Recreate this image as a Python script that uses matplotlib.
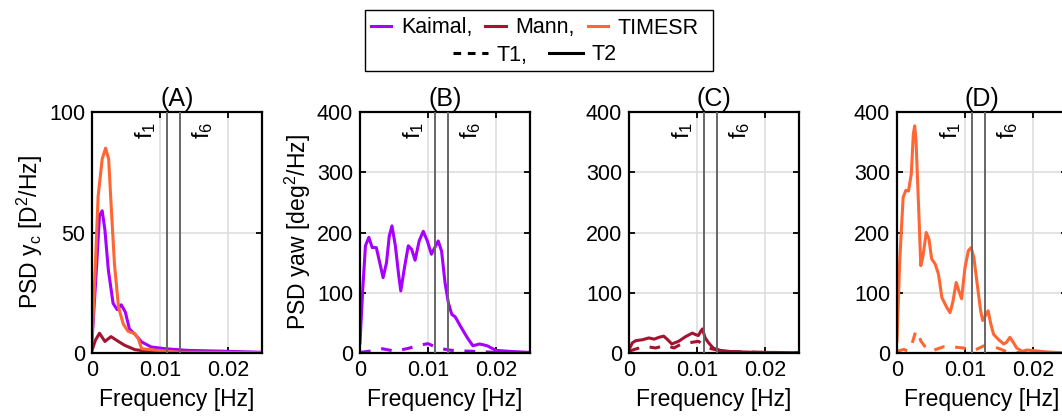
import numpy as np
import matplotlib.pyplot as plt
from matplotlib.lines import Line2D
from matplotlib.patches import Rectangle

plt.rcParams['font.family'] = ['Liberation Sans', 'DejaVu Sans']
plt.rcParams['mathtext.fontset'] = 'custom'
plt.rcParams['mathtext.rm'] = 'Liberation Sans'
plt.rcParams['mathtext.it'] = 'Liberation Sans:italic'

# frequencies of the two marked lines
f_marks = [0.011, 0.013]
f_labels = ['f$_1$', 'f$_6$']

# (A) PSD of y_c, T2
a_kaimal_f = [0, 0.00064, 0.0011, 0.0015, 0.0019, 0.0024, 0.0031, 0.0037, 0.0043, 0.0049,
              0.0055, 0.0063, 0.0073, 0.0087, 0.0107, 0.014, 0.02, 0.025]
a_kaimal_v = [5, 34.5, 57, 59, 51, 34.5, 20.6, 18, 20, 17, 10, 7.8, 4.6, 2.5, 1.8, 1.1, 0.7, 0.3]
a_mann_f = [0, 0.0005, 0.0011, 0.0019, 0.0028, 0.0036, 0.0048, 0.0063, 0.0082, 0.0117, 0.025]
a_mann_v = [1, 5.3, 8.2, 4.8, 6.8, 5.3, 3.2, 1.4, 0.7, 0.3, 0.1]
a_timesr_f = [0, 0.0004, 0.0009, 0.0015, 0.002, 0.00245, 0.0028, 0.0033, 0.0039, 0.0046,
              0.0053, 0.0063, 0.0068, 0.0073, 0.0082, 0.0107, 0.013, 0.025]
a_timesr_v = [5.3, 30, 65, 80.5, 85, 80.5, 62, 37, 19, 12, 9, 8, 6, 1.8, 1.5, 0.8, 0.3, 0.2]

# (B) PSD of yaw, Kaimal
b_t2_f = [0, 0.0004, 0.0008, 0.0013, 0.0018, 0.0024, 0.0029, 0.0034, 0.0039, 0.0043, 0.0047,
          0.0052, 0.0057, 0.006, 0.0065, 0.0071, 0.0076, 0.0081, 0.0087, 0.0093, 0.0099,
          0.0105, 0.011, 0.0115, 0.012, 0.0125, 0.013, 0.0135, 0.014, 0.0148, 0.0158,
          0.0166, 0.0176, 0.0187, 0.02, 0.0219, 0.0248]
b_t2_v = [17, 105, 178, 192, 175, 175, 150, 125, 150, 194, 211, 178, 128, 103, 139, 178,
          172, 154, 186, 202, 186, 164, 175, 186, 169, 117, 83, 64, 60, 44, 25, 12, 15, 12,
          4.4, 2.8, 1]
b_t1_f = [0, 0.0014, 0.0033, 0.0052, 0.0072, 0.0087, 0.01, 0.0109, 0.012, 0.0135, 0.0155,
          0.018, 0.02, 0.025]
b_t1_v = [1, 3, 7, 3, 8, 13, 15.5, 11, 7, 4.4, 3.3, 2.2, 1, 0.5]

# (C) PSD of yaw, Mann
c_t2_f = [0, 0.0005, 0.001, 0.002, 0.0029, 0.0037, 0.0044, 0.0051, 0.0056, 0.0063, 0.0073,
          0.0083, 0.0093, 0.0098, 0.0102, 0.0106, 0.0108, 0.0112, 0.0117, 0.0124, 0.0134,
          0.0151, 0.019, 0.0249]
c_t2_v = [5.5, 17, 20.5, 22, 25, 23, 26, 28, 23, 15, 19.4, 27, 33, 30.5, 29, 37, 40, 25,
          17, 8, 4.4, 2.2, 1.1, 0.5]
c_t1_f = [0, 0.001, 0.0024, 0.0039, 0.0054, 0.0066, 0.0078, 0.0093, 0.0102, 0.0108, 0.0117,
          0.0127, 0.0141, 0.019, 0.025]
c_t1_v = [2.8, 6.7, 11, 8.3, 12.8, 8.3, 15.5, 17.8, 19.4, 15, 8.3, 5.5, 2.8, 1.1, 0.5]

# (D) PSD of yaw, TIMESR
d_t2_f = [0, 0.0004, 0.0009, 0.0013, 0.0017, 0.0021, 0.0024, 0.0026, 0.0028, 0.0032, 0.0035,
          0.0038, 0.0043, 0.0047, 0.0051, 0.0056, 0.0061, 0.0066, 0.0073, 0.0078, 0.0082,
          0.0087, 0.0091, 0.0095, 0.01, 0.0105, 0.0109, 0.0113, 0.0118, 0.0123, 0.0126,
          0.013, 0.0134, 0.0138, 0.0142, 0.015, 0.0157, 0.0161, 0.0166, 0.0171, 0.0176,
          0.0184, 0.0191, 0.0201, 0.0221, 0.0242, 0.025]
d_t2_v = [20, 153, 258, 270, 269, 297, 363, 377, 352, 236, 145, 159, 200, 189, 156, 148,
          131, 92, 76, 67, 84, 117, 103, 90, 142, 170, 175, 159, 114, 70, 54, 62, 70, 48,
          31, 21.5, 15, 17.7, 26, 17.7, 8.3, 2.8, 5, 3.9, 1.7, 0.5, 0.3]
d_t1_f = [0, 0.001, 0.0017, 0.0022, 0.0027, 0.003, 0.0035, 0.0042, 0.0049, 0.0059, 0.0069,
          0.0078, 0.0088, 0.0098, 0.0108, 0.0118, 0.0127, 0.0135, 0.0142, 0.0152, 0.0162,
          0.0181, 0.024]
d_t1_v = [2.8, 6, 2.8, 15, 34, 37, 20, 9.4, 2.8, 6.6, 10.5, 11, 9.4, 8.3, 3.9, 6.6, 11.6,
          13, 10.5, 6.6, 1.7, 0.5, 0]

c_kaimal = '#A600FF'
c_mann = '#A2142F'
c_timesr = '#FF6633'
dash = (0, (3.5, 3.5))
lw = 2.2

W, H = 1062, 417
fig = plt.figure(figsize=(W / 100, H / 100), dpi=100)

lefts = [92, 360, 629, 897]
axw, bottom, top = 170, 353, 112


def make_ax(left):
    ax = fig.add_axes([left / W, (H - bottom) / H, axw / W, (bottom - top) / H])
    ax.set_xlim(0, 0.025)
    ax.set_xticks([0, 0.01, 0.02])
    ax.set_xticklabels(['0', '0.01', '0.02'])
    ax.grid(True, color='#DEDEDE', lw=1.2)
    ax.set_axisbelow(True)
    ax.tick_params(direction='in', length=4, width=1.3, top=True, right=True,
                   labelsize=15.5, pad=5)
    for s in ax.spines.values():
        s.set_linewidth(1.6)
    ax.set_xlabel('Frequency [Hz]', fontsize=16.5, labelpad=5)
    return ax


axes = [make_ax(l) for l in lefts]

ax = axes[0]
ax.plot(a_kaimal_f, a_kaimal_v, color=c_kaimal, lw=lw)
ax.plot(a_mann_f, a_mann_v, color=c_mann, lw=lw)
ax.plot(a_timesr_f, a_timesr_v, color=c_timesr, lw=lw)
ax.set_ylim(0, 100)
ax.set_yticks([0, 50, 100])
ax.set_ylabel('PSD y$_\\mathrm{c}$ [D$^2$/Hz]', fontsize=16.5, labelpad=3)

ax = axes[1]
ax.plot(b_t2_f, b_t2_v, color=c_kaimal, lw=lw)
ax.plot(b_t1_f, b_t1_v, color=c_kaimal, lw=lw, ls=dash)
ax.set_ylabel('PSD yaw [deg$^2$/Hz]', fontsize=16.5, labelpad=3)

ax = axes[2]
ax.plot(c_t2_f, c_t2_v, color=c_mann, lw=lw)
ax.plot(c_t1_f, c_t1_v, color=c_mann, lw=lw, ls=dash)

ax = axes[3]
ax.plot(d_t2_f, d_t2_v, color=c_timesr, lw=lw)
ax.plot(d_t1_f, d_t1_v, color=c_timesr, lw=lw, ls=dash)

for ax in axes[1:]:
    ax.set_ylim(0, 400)
    ax.set_yticks([0, 100, 200, 300, 400])

for ax, t in zip(axes, ['(A)', '(B)', '(C)', '(D)']):
    ax.set_title(t, fontsize=18, pad=4)
    for f in f_marks:
        ax.axvline(f, color='#666666', lw=1.4, zorder=3)
    trans = ax.get_xaxis_transform()
    ax.annotate(f_labels[0], xy=(f_marks[0], 1), xycoords=trans, xytext=(-9, -10),
                textcoords='offset pixels', rotation=90, ha='right', va='top', fontsize=17)
    ax.annotate(f_labels[1], xy=(f_marks[1], 1), xycoords=trans, xytext=(10, -10),
                textcoords='offset pixels', rotation=90, ha='left', va='top', fontsize=17)

# legend
fig.add_artist(Rectangle((365 / W, (H - 71) / H), 348 / W, 61 / H, transform=fig.transFigure,
                         fill=False, ec='black', lw=1.0))
h1 = [Line2D([], [], color=c, lw=lw) for c in (c_kaimal, c_mann, c_timesr)]
fig.legend(h1, ['Kaimal,', 'Mann,', 'TIMESR'], ncol=3, frameon=False, fontsize=15.5,
           loc='center', bbox_to_anchor=(535 / W, (H - 28) / H), handlelength=0.95,
           handletextpad=0.45, columnspacing=0.6)
h2 = [Line2D([], [], color='black', lw=lw, ls=(0, (2.5, 2.2))),
      Line2D([], [], color='black', lw=lw)]
fig.legend(h2, ['T1,', 'T2'], ncol=2, frameon=False, fontsize=15.5,
           loc='center', bbox_to_anchor=(535 / W, (H - 55) / H), handlelength=1.6,
           handletextpad=0.4, columnspacing=1.0)

fig.savefig('out.png', dpi=100)
